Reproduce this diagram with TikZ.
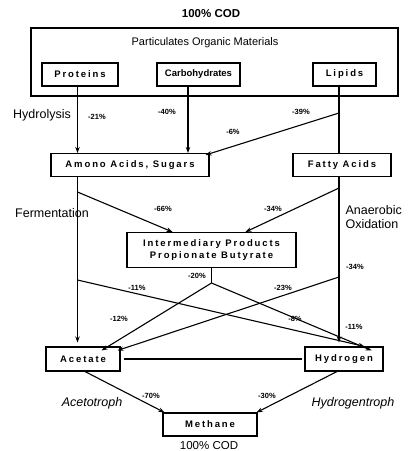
\documentclass[tikz,border=0pt]{standalone}
\usepackage{fontspec}
\setmainfont{Liberation Sans}
\newfontfamily\boxfont[LetterSpace=20]{Liberation Sans}
\newfontfamily\boxfonttight[LetterSpace=0]{Liberation Sans}
\usetikzlibrary{arrows.meta}
\begin{document}
\begin{tikzpicture}[x=1pt,y=-1pt,line width=1.1pt,
    >={Stealth[length=6pt,width=4.5pt]},
    stagebox/.style={draw, inner sep=0pt, font=\boxfont\bfseries\fontsize{9.5}{11}\selectfont},
    pct/.style={font=\bfseries\fontsize{7.5}{9}\selectfont, inner sep=0pt},
    proc/.style={font=\fontsize{12.5}{14}\selectfont, inner sep=0pt},
    troph/.style={font=\itshape\fontsize{12.5}{15}\selectfont, inner sep=0pt}]
    \useasboundingbox (0,0) rectangle (408,451);

    % top level
    \node[font=\bfseries\fontsize{11.5}{14}\selectfont] (codtop) at (211,14) {100\% COD};
    \node[draw, minimum width=367pt, minimum height=68pt] (pom) at (214.5,62) {};
    \node[font=\fontsize{11}{13}\selectfont] (pomtext) at (205,43) {Particulates Organic Materials};
    \node[stagebox, minimum width=76pt, minimum height=23pt] (proteins) at (80,74.5) {Proteins};
    \node[stagebox, font=\boxfonttight\bfseries\fontsize{9.5}{11}\selectfont, minimum width=83pt, minimum height=23pt] (carbo) at (198.5,74.5) {Carbohydrates};
    \node[stagebox, minimum width=63pt, minimum height=23pt] (lipids) at (344.5,74.5) {Lipids};

    % monomers
    \node[stagebox, minimum width=158pt, minimum height=23pt] (amino) at (130,165) {Amono Acids, Sugars};
    \node[stagebox, minimum width=98pt, minimum height=23pt] (fatty) at (342,165) {Fatty Acids};
    \node[stagebox, align=center, minimum width=169pt, minimum height=35pt] (inter) at (211.5,250)
        {Intermediary Products\\[1pt]Propionate Butyrate};
    \node[stagebox, minimum width=74pt, minimum height=24pt] (acetate) at (83,359) {Acetate};
    \node[stagebox, minimum width=78pt, minimum height=24pt] (hydrogen) at (344,359) {Hydrogen};
    \node[stagebox, minimum width=94pt, minimum height=23pt] (methane) at (210,424.5) {Methane};
    \node[font=\fontsize{11.5}{14}\selectfont, inner sep=0pt] (codbot) at (209,446) {100\% COD};

    % columns and branch points
    \coordinate (colL) at (77.5,0);
    \coordinate (colC) at (188,0);
    \coordinate (colR) at (339,0);
    \coordinate (lipbr) at (339,113);
    \coordinate (fermL) at (77.5,192);
    \coordinate (oxR) at (339,188);
    \coordinate (crossL) at (77.5,280);
    \coordinate (crossR) at (339,277);
    \coordinate (split) at (211.5,283);

    % hydrolysis
    \draw[->] (proteins.south -| colL) -- (amino.north -| colL);
    \draw[->] (carbo.south -| colC) -- (amino.north -| colC);
    \draw (lipids.south -| colR) -- (fatty.north -| colR);
    \draw[->] (lipbr) -- ([xshift=-4pt,yshift=-2pt]amino.north east);

    % fermentation / oxidation
    \draw[->, shorten >=4pt] (amino.south -| colL) -- (acetate.north -| colL);
    \draw[->, shorten >=4pt] (fatty.south -| colR) -- (hydrogen.north -| colR);
    \draw[->] (fermL) -- ([xshift=-39pt]inter.north);
    \draw[->] (oxR) -- ([xshift=34pt]inter.north);
    \draw (inter.south) -- (split);
    \draw[->] (split) -- ([xshift=-19pt,yshift=-4pt]acetate.north east);
    \draw[->] (split) -- ([xshift=-12pt,yshift=-4pt]hydrogen.north east);
    \draw[->] (crossL) -- ([xshift=-19pt]hydrogen.north east);
    \draw[->] (crossR) -- ([xshift=-3pt,yshift=-4pt]acetate.north east);
    \draw[shorten <=3pt, shorten >=2pt] (acetate.east) -- (hydrogen.west);

    % methanogenesis
    \draw[->] ([xshift=2pt]acetate.south) -- ([xshift=2pt]methane.north west);
    \draw[->] ([xshift=-7pt]hydrogen.south) -- ([xshift=-1pt]methane.north east);

    % labels
    \node[proc] (hydro) at (42,115) {Hydrolysis};
    \node[proc] (ferm) at (52,213) {Fermentation};
    \node[proc, anchor=west, align=left] (anox) at (345,217) {Anaerobic\\Oxidation};
    \node[troph] (acetotroph) at (92,403) {Acetotroph};
    \node[troph] (hydrotroph) at (353,403) {Hydrogentroph};

    \node[pct] (p21) at (97,117) {-21\%};
    \node[pct] (p40) at (167,112) {-40\%};
    \node[pct] (p39) at (301,112) {-39\%};
    \node[pct] (p6) at (233,132) {-6\%};
    \node[pct] (p66) at (163,209) {-66\%};
    \node[pct] (p34a) at (273,209) {-34\%};
    \node[pct] (p34b) at (355,267) {-34\%};
    \node[pct] (p20) at (197,276) {-20\%};
    \node[pct] (p11a) at (137,288) {-11\%};
    \node[pct] (p23) at (283,288) {-23\%};
    \node[pct] (p12) at (119,319) {-12\%};
    \node[pct] (p8) at (295,319) {-8\%};
    \node[pct] (p11b) at (354,327) {-11\%};
    \node[pct] (p70) at (151,396) {-70\%};
    \node[pct] (p30) at (267,396) {-30\%};
\end{tikzpicture}
\end{document}
